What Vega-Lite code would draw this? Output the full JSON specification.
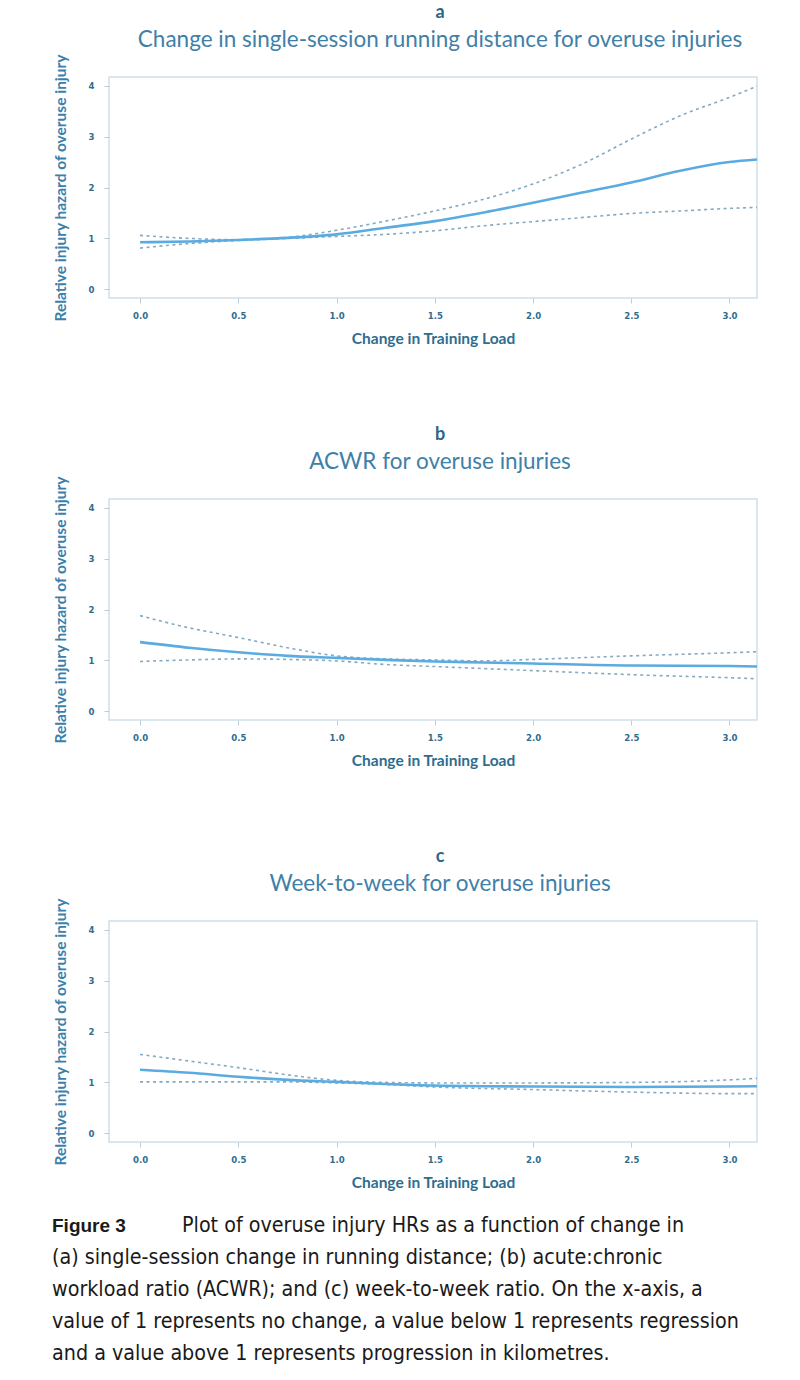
{
  "$schema": "https://vega.github.io/schema/vega-lite/v6.json",
  "background": "white",
  "padding": {"left": 52, "top": 3, "right": 5, "bottom": 2},
  "spacing": 18,
  "datasets": {
    "a": [
      {"x": 0.0, "est": 0.925, "lo": 0.81, "hi": 1.06},
      {"x": 0.25, "est": 0.94, "lo": 0.90, "hi": 1.00},
      {"x": 0.5, "est": 0.97, "lo": 0.96, "hi": 0.975},
      {"x": 0.75, "est": 1.01, "lo": 1.00, "hi": 1.02},
      {"x": 1.0, "est": 1.08, "lo": 1.04, "hi": 1.16},
      {"x": 1.25, "est": 1.21, "lo": 1.08, "hi": 1.34},
      {"x": 1.5, "est": 1.34, "lo": 1.15, "hi": 1.54},
      {"x": 1.75, "est": 1.51, "lo": 1.25, "hi": 1.77},
      {"x": 2.0, "est": 1.70, "lo": 1.33, "hi": 2.07},
      {"x": 2.25, "est": 1.90, "lo": 1.41, "hi": 2.46},
      {"x": 2.5, "est": 2.10, "lo": 1.49, "hi": 2.95},
      {"x": 2.75, "est": 2.33, "lo": 1.54, "hi": 3.41},
      {"x": 3.0, "est": 2.50, "lo": 1.59, "hi": 3.77},
      {"x": 3.14, "est": 2.55, "lo": 1.61, "hi": 3.99}
    ],
    "b": [
      {"x": 0.0, "est": 1.36, "lo": 0.98, "hi": 1.88},
      {"x": 0.25, "est": 1.25, "lo": 1.01, "hi": 1.64},
      {"x": 0.5, "est": 1.16, "lo": 1.03, "hi": 1.45},
      {"x": 0.75, "est": 1.09, "lo": 1.02, "hi": 1.25},
      {"x": 1.0, "est": 1.05, "lo": 0.99, "hi": 1.09},
      {"x": 1.25, "est": 1.01, "lo": 0.92, "hi": 1.03},
      {"x": 1.5, "est": 0.98, "lo": 0.88, "hi": 1.01},
      {"x": 1.75, "est": 0.96, "lo": 0.84, "hi": 0.99},
      {"x": 2.0, "est": 0.94, "lo": 0.80, "hi": 1.02},
      {"x": 2.5, "est": 0.90, "lo": 0.72, "hi": 1.09},
      {"x": 3.0, "est": 0.89, "lo": 0.66, "hi": 1.15},
      {"x": 3.14, "est": 0.88, "lo": 0.64, "hi": 1.17}
    ],
    "c": [
      {"x": 0.0, "est": 1.25, "lo": 1.01, "hi": 1.55},
      {"x": 0.25, "est": 1.19, "lo": 1.01, "hi": 1.42},
      {"x": 0.5, "est": 1.11, "lo": 1.01, "hi": 1.29},
      {"x": 0.75, "est": 1.05, "lo": 1.01, "hi": 1.15},
      {"x": 1.0, "est": 1.01, "lo": 0.99, "hi": 1.04},
      {"x": 1.25, "est": 0.97, "lo": 0.96, "hi": 1.00},
      {"x": 1.5, "est": 0.94, "lo": 0.91, "hi": 0.99},
      {"x": 2.0, "est": 0.92, "lo": 0.86, "hi": 0.99},
      {"x": 2.5, "est": 0.91, "lo": 0.81, "hi": 1.00},
      {"x": 3.0, "est": 0.92, "lo": 0.78, "hi": 1.05},
      {"x": 3.14, "est": 0.925, "lo": 0.78, "hi": 1.08}
    ],
    "cap": [
      {"line": 1, "part": "head", "txt": "Figure 3"},
      {"line": 1, "part": "first", "txt": "Plot of overuse injury HRs as a function of change in"},
      {"line": 2, "part": "body", "txt": "(a) single-session change in running distance; (b) acute:chronic"},
      {"line": 3, "part": "body", "txt": "workload ratio (ACWR); and (c) week-to-week ratio. On the x-axis, a"},
      {"line": 4, "part": "body", "txt": "value of 1 represents no change, a value below 1 represents regression"},
      {"line": 5, "part": "body", "txt": "and a value above 1 represents progression in kilometres."}
    ]
  },
  "config": {
    "view": {"stroke": "#cfdfe9", "strokeWidth": 1.5},
    "axis": {
      "grid": false,
      "domain": false,
      "tickColor": "#b9cfdd",
      "tickSize": 5,
      "labelFont": "DejaVu Sans Condensed, Roboto, sans-serif",
      "labelFontWeight": "bold",
      "labelFontSize": 9.5,
      "labelColor": "#2f6d8f",
      "titleFont": "Lato, Open Sans, sans-serif",
      "titleFontWeight": "bold",
      "titleFontSize": 15.5,
      "titleColor": "#2f6d8f"
    },
    "title": {
      "font": "Lato, Open Sans, sans-serif",
      "fontSize": 18,
      "fontWeight": "bold",
      "color": "#2b6687",
      "subtitleFont": "Lato, Open Sans, sans-serif",
      "subtitleFontSize": 22.5,
      "subtitleColor": "#3f80a8",
      "subtitlePadding": 7,
      "anchor": "middle",
      "frame": "group",
      "dx": 7,
      "offset": 2
    }
  },
  "vconcat": [
    {
      "spacing": 77,
      "vconcat": [
        {
          "title": {"text": "a", "subtitle": "Change in single-session running distance for overuse injuries"},
          "width": 648,
          "height": 221,
          "data": {"name": "a"},
          "encoding": {
            "x": {"field": "x", "type": "quantitative", "scale": {"domain": [-0.158, 3.14], "nice": false, "zero": false},
              "axis": {"values": [0, 0.5, 1, 1.5, 2, 2.5, 3], "format": ".1f", "title": "Change in Training Load", "labelPadding": 7, "titlePadding": 12}}
          },
          "layer": [
            {"mark": {"type": "line", "color": "#84a9c2", "strokeWidth": 1.6, "strokeDash": [3, 3.5], "interpolate": "monotone", "clip": true},
              "encoding": {"y": {"field": "hi", "type": "quantitative", "scale": {"domain": [-0.17, 4.17], "nice": false, "zero": false},
                "axis": {"values": [0, 1, 2, 3, 4], "title": "Relative injury hazard of overuse injury", "labelPadding": 10, "titlePadding": 20, "titleColor": "#3b7fab"}}}},
            {"mark": {"type": "line", "color": "#84a9c2", "strokeWidth": 1.6, "strokeDash": [3, 3.5], "interpolate": "monotone", "clip": true},
              "encoding": {"y": {"field": "lo", "type": "quantitative"}}},
            {"mark": {"type": "line", "color": "#5aabdf", "strokeWidth": 2.6, "interpolate": "monotone", "clip": true},
              "encoding": {"y": {"field": "est", "type": "quantitative"}}}
          ]
        },
        {
          "title": {"text": "b", "subtitle": "ACWR for overuse injuries"},
          "width": 648,
          "height": 221,
          "data": {"name": "b"},
          "encoding": {
            "x": {"field": "x", "type": "quantitative", "scale": {"domain": [-0.158, 3.14], "nice": false, "zero": false},
              "axis": {"values": [0, 0.5, 1, 1.5, 2, 2.5, 3], "format": ".1f", "title": "Change in Training Load", "labelPadding": 7, "titlePadding": 12}}
          },
          "layer": [
            {"mark": {"type": "line", "color": "#84a9c2", "strokeWidth": 1.6, "strokeDash": [3, 3.5], "interpolate": "monotone", "clip": true},
              "encoding": {"y": {"field": "hi", "type": "quantitative", "scale": {"domain": [-0.17, 4.17], "nice": false, "zero": false},
                "axis": {"values": [0, 1, 2, 3, 4], "title": "Relative injury hazard of overuse injury", "labelPadding": 10, "titlePadding": 20, "titleColor": "#3b7fab"}}}},
            {"mark": {"type": "line", "color": "#84a9c2", "strokeWidth": 1.6, "strokeDash": [3, 3.5], "interpolate": "monotone", "clip": true},
              "encoding": {"y": {"field": "lo", "type": "quantitative"}}},
            {"mark": {"type": "line", "color": "#5aabdf", "strokeWidth": 2.6, "interpolate": "monotone", "clip": true},
              "encoding": {"y": {"field": "est", "type": "quantitative"}}}
          ]
        },
        {
          "title": {"text": "c", "subtitle": "Week-to-week for overuse injuries"},
          "width": 648,
          "height": 221,
          "data": {"name": "c"},
          "encoding": {
            "x": {"field": "x", "type": "quantitative", "scale": {"domain": [-0.158, 3.14], "nice": false, "zero": false},
              "axis": {"values": [0, 0.5, 1, 1.5, 2, 2.5, 3], "format": ".1f", "title": "Change in Training Load", "labelPadding": 7, "titlePadding": 12}}
          },
          "layer": [
            {"mark": {"type": "line", "color": "#84a9c2", "strokeWidth": 1.6, "strokeDash": [3, 3.5], "interpolate": "monotone", "clip": true},
              "encoding": {"y": {"field": "hi", "type": "quantitative", "scale": {"domain": [-0.17, 4.17], "nice": false, "zero": false},
                "axis": {"values": [0, 1, 2, 3, 4], "title": "Relative injury hazard of overuse injury", "labelPadding": 10, "titlePadding": 20, "titleColor": "#3b7fab"}}}},
            {"mark": {"type": "line", "color": "#84a9c2", "strokeWidth": 1.6, "strokeDash": [3, 3.5], "interpolate": "monotone", "clip": true},
              "encoding": {"y": {"field": "lo", "type": "quantitative"}}},
            {"mark": {"type": "line", "color": "#5aabdf", "strokeWidth": 2.6, "interpolate": "monotone", "clip": true},
              "encoding": {"y": {"field": "est", "type": "quantitative"}}}
          ]
        }
      ]
    },
    {
      "width": 648,
      "height": 160,
      "view": {"stroke": null},
      "data": {"name": "cap"},
      "encoding": {
        "y": {"field": "line", "type": "ordinal", "axis": null, "scale": {"type": "point", "padding": 0.5}},
        "x": {"datum": 0, "type": "quantitative", "axis": null, "scale": {"domain": [0, 1]}},
        "text": {"field": "txt"}
      },
      "layer": [
        {"transform": [{"filter": "datum.part == 'head'"}],
          "mark": {"type": "text", "align": "left", "baseline": "middle", "dx": -57, "font": "Liberation Sans, Arial, sans-serif", "fontWeight": "bold", "fontSize": 19, "color": "#1a1a1a"}},
        {"transform": [{"filter": "datum.part == 'first'"}],
          "mark": {"type": "text", "align": "left", "baseline": "middle", "dx": 73, "font": "DejaVu Sans Condensed, sans-serif", "fontSize": 21.3, "color": "#1a1a1a"}},
        {"transform": [{"filter": "datum.part == 'body'"}],
          "mark": {"type": "text", "align": "left", "baseline": "middle", "dx": -57, "font": "DejaVu Sans Condensed, sans-serif", "fontSize": 21.3, "color": "#1a1a1a"}}
      ]
    }
  ]
}
